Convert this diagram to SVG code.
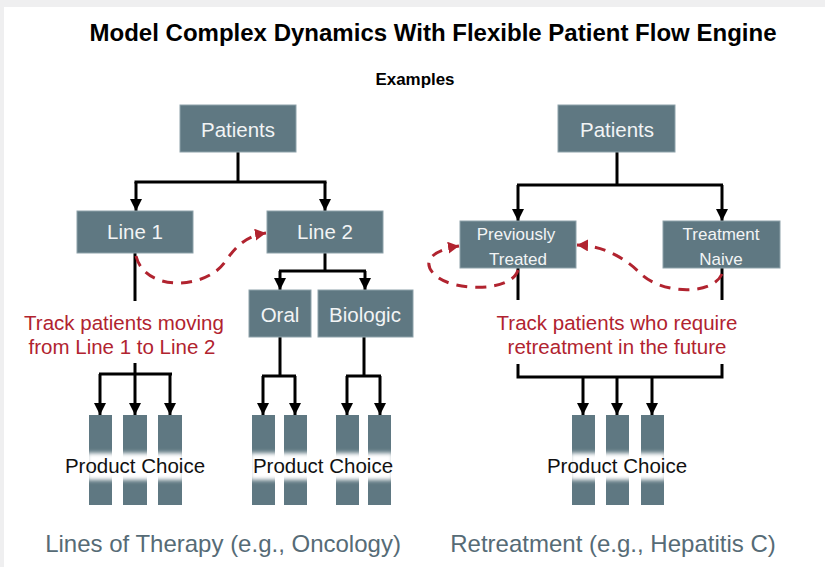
<svg xmlns="http://www.w3.org/2000/svg" width="825" height="567" viewBox="0 0 825 567">
<defs>
<style>
.box{fill:#5f7882;stroke:#8ea2aa;stroke-width:1}
.bt{fill:#f2f4f5;font-family:"Liberation Sans",Arial,sans-serif;font-size:20.5px;text-anchor:middle}
.bs{fill:#f2f4f5;font-family:"Liberation Sans",Arial,sans-serif;font-size:17px;text-anchor:middle}
.red{fill:#b1232f;font-family:"Liberation Sans",Arial,sans-serif;font-size:20.5px;text-anchor:middle}
.pc{fill:#111;font-family:"Liberation Sans",Arial,sans-serif;font-size:20.5px;text-anchor:middle}
.cap{fill:#566b76;font-family:"Liberation Sans",Arial,sans-serif;font-size:24px;text-anchor:middle}
.ln{fill:none;stroke:#000;stroke-width:3}
.ar{fill:none;stroke:#000;stroke-width:3;marker-end:url(#ah)}
.dash{fill:none;stroke:#b1232f;stroke-width:3;stroke-dasharray:11 8;marker-end:url(#rh)}
.bar{fill:#5f7882}
.band{fill:#fff;filter:url(#blur)}
</style>
<marker id="ah" markerUnits="userSpaceOnUse" markerWidth="14" markerHeight="14" refX="12" refY="6" orient="auto">
<path d="M0,0 L12,6 L0,12 Z" fill="#000"/>
</marker>
<marker id="rh" markerUnits="userSpaceOnUse" markerWidth="14" markerHeight="14" refX="11" refY="6" orient="auto">
<path d="M0,0 L11,6 L0,12 Z" fill="#b1232f"/>
</marker>
<filter id="blur" x="-20%" y="-50%" width="140%" height="200%"><feGaussianBlur stdDeviation="2"/></filter>
</defs>
<rect x="0" y="0" width="825" height="567" fill="#fff"/>
<rect x="0" y="0" width="825" height="7" fill="#efeff0"/>
<rect x="0" y="0" width="4" height="567" fill="#efeff0"/>

<text x="433" y="41" font-family="Liberation Sans,Arial,sans-serif" font-size="23" font-weight="bold" text-anchor="middle" textLength="687" lengthAdjust="spacingAndGlyphs">Model Complex Dynamics With Flexible Patient Flow Engine</text>
<text x="415" y="85" font-family="Liberation Sans,Arial,sans-serif" font-size="16" font-weight="bold" text-anchor="middle" textLength="79" lengthAdjust="spacingAndGlyphs">Examples</text>

<g id="connectors">
<path class="ln" d="M238,152 V182"/>
<path class="ln" d="M134.5,182 H326.5"/>
<path class="ar" d="M136,182 V211"/>
<path class="ar" d="M325,182 V211"/>
<path class="ln" d="M325,253 V271"/>
<path class="ln" d="M279,271 H366"/>
<path class="ar" d="M280,271 V290"/>
<path class="ar" d="M365,271 V290"/>
<path class="ln" d="M135,253 V301"/>
<path class="ln" d="M135,363 V374 M99,374 H172"/>
<path class="ar" d="M100,374 V415"/>
<path class="ar" d="M135,374 V415"/>
<path class="ar" d="M170,374 V415"/>
<path class="ln" d="M280,337 V376 M262,376 H296"/>
<path class="ar" d="M263,376 V415"/>
<path class="ar" d="M295,376 V415"/>
<path class="ln" d="M364,337 V376 M346,376 H381"/>
<path class="ar" d="M347,376 V415"/>
<path class="ar" d="M380,376 V415"/>
<path class="ln" d="M617,152 V185"/>
<path class="ln" d="M517,185 H723"/>
<path class="ar" d="M518,185 V221"/>
<path class="ar" d="M722,185 V221"/>
<path class="ln" d="M518,268 V300"/>
<path class="ln" d="M722,268 V300"/>
<path class="ln" d="M518,364 V377 H722 V364"/>
<path class="ar" d="M583,377 V415"/>
<path class="ar" d="M617,377 V415"/>
<path class="ar" d="M652,377 V415"/>
<path class="dash" d="M136,256 C145,292 205,290 225,262 C236,246 246,236 266,233"/>
<path class="dash" d="M518,270 C512,292 455,292 436,276 C420,262 432,250 459,246"/>
<path class="dash" d="M722,274 C712,296 662,294 641,274 C626,259 606,246 577,245"/>
</g>

<g id="n-patients-left"><rect class="box" x="180" y="105" width="116" height="47"/><text class="bt" x="238" y="137">Patients</text></g>
<g id="n-line1"><rect class="box" x="77" y="211" width="116" height="42"/><text class="bt" x="135" y="239">Line 1</text></g>
<g id="n-line2"><rect class="box" x="267" y="211" width="116" height="42"/><text class="bt" x="325" y="239">Line 2</text></g>
<g id="n-oral"><rect class="box" x="249" y="290" width="62" height="47"/><text class="bt" x="280" y="322">Oral</text></g>
<g id="n-biologic"><rect class="box" x="318" y="290" width="95" height="47"/><text class="bt" x="365" y="322">Biologic</text></g>
<g id="n-patients-right"><rect class="box" x="558" y="105" width="117" height="47"/><text class="bt" x="617" y="137">Patients</text></g>
<g id="n-prev"><rect class="box" x="460" y="221" width="116" height="47"/><text class="bs" x="516" y="240">Previously</text><text class="bs" x="518" y="265">Treated</text></g>
<g id="n-naive"><rect class="box" x="663" y="221" width="117" height="47"/><text class="bs" x="721" y="240">Treatment</text><text class="bs" x="721" y="265">Naive</text></g>

<g id="n-track-left"><text class="red" x="124" y="330">Track patients moving</text><text class="red" x="122" y="354">from Line 1 to Line 2</text></g>
<g id="n-track-right"><text class="red" x="617" y="330">Track patients who require</text><text class="red" x="617" y="354">retreatment in the future</text></g>

<g id="n-pc-left">
<rect class="bar" x="89" y="415" width="23" height="90"/><rect class="bar" x="123" y="415" width="24" height="90"/><rect class="bar" x="158" y="415" width="24" height="90"/>
<rect class="band" x="87" y="453" width="97" height="27"/>
<text class="pc" x="135" y="473">Product Choice</text>
</g>
<g id="n-pc-mid">
<rect class="bar" x="252" y="415" width="23" height="90"/><rect class="bar" x="284" y="415" width="23" height="90"/><rect class="bar" x="336" y="415" width="23" height="90"/><rect class="bar" x="368" y="415" width="23" height="90"/>
<rect class="band" x="250" y="453" width="143" height="27"/>
<text class="pc" x="323" y="473">Product Choice</text>
</g>
<g id="n-pc-right">
<rect class="bar" x="572" y="415" width="23" height="90"/><rect class="bar" x="606" y="415" width="23" height="90"/><rect class="bar" x="641" y="415" width="23" height="90"/>
<rect class="band" x="570" y="453" width="96" height="27"/>
<text class="pc" x="617" y="473">Product Choice</text>
</g>

<g id="n-cap-left"><text class="cap" x="223" y="552">Lines of Therapy (e.g., Oncology)</text></g>
<g id="n-cap-right"><text class="cap" x="613" y="552">Retreatment (e.g., Hepatitis C)</text></g>
</svg>
